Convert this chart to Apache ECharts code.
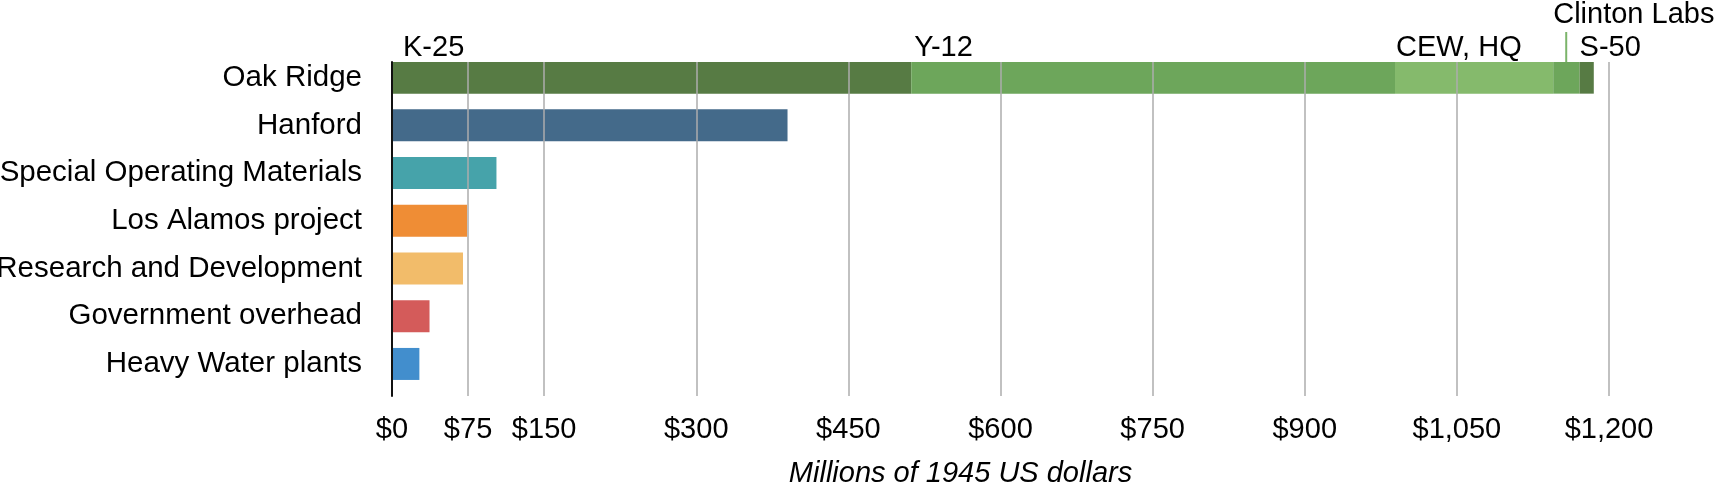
<!DOCTYPE html>
<html>
<head>
<meta charset="utf-8">
<script src="https://cdn.jsdelivr.net/npm/echarts@6/dist/echarts.min.js"></script>
<style>
  html, body { margin: 0; padding: 0; background: #fff; }
  #chart { width: 1716px; height: 482px; }
</style>
</head>
<body>
<div id="chart"></div>
<script>
// data (millions of 1945 US dollars)
const categories = ['Oak Ridge', 'Hanford', 'Special Operating Materials', 'Los Alamos project',
  'Research and Development', 'Government overhead', 'Heavy Water plants'];
const oakParts = ['K-25', 'Y-12', 'CEW, HQ', 'Clinton Labs', 'S-50'];
const oakValues = [512, 477, 156, 26, 14];
const otherValues = [390, 103, 74, 70, 37, 27];   // Hanford .. Heavy Water plants
const tickValues = [0, 75, 150, 300, 450, 600, 750, 900, 1050, 1200];

const oakColors = ['#577b44', '#6da65b', '#85ba6c', '#6da65b', '#577b44'];
const otherColors = ['#446a8a', '#46a3aa', '#ef8d35', '#f2bc6a', '#d45b5a', '#428ecd'];
const labelShift = [11, 3, 1, 0, 0];
const FONT = '"Liberation Sans", Arial, sans-serif';
const FS = 29;

const chart = echarts.init(document.getElementById('chart'), null, {renderer: 'canvas'});

const series = oakParts.map(function (name, i) {
  const s = {
    name: name,
    type: 'bar',
    stack: 'total',
    barWidth: 32,
    barGap: 0,
    data: categories.map((c, j) => j === 0 ? oakValues[i] : '-'),
    itemStyle: {color: oakColors[i]},
    label: {
      show: true,
      formatter: name,
      position: [labelShift[i], 0],
      align: 'left',
      verticalAlign: 'bottom',
      fontFamily: FONT,
      fontSize: FS,
      color: '#000'
    }
  };
  if (name === 'Clinton Labs') {
    // label sits higher with a small leader line down to the bar
    s.label.position = [0, 0];
    s.label.formatter = '{t|' + name + '}\n{g|}{l|}';
    s.label.rich = {
      t: {fontFamily: FONT, fontSize: FS, color: '#000', lineHeight: 35},
      g: {width: 12, height: 30, lineHeight: 30},
      l: {width: 2, height: 30, lineHeight: 30, backgroundColor: '#7bb46a'}
    };
  }
  return s;
});

series.push({
  name: 'Other sites',
  type: 'bar',
  stack: 'total',
  barWidth: 32,
  barGap: 0,
  data: categories.map((c, j) => j === 0 ? '-' : {
    value: otherValues[j - 1],
    itemStyle: {color: otherColors[j - 1]}
  })
});

// empty spacer column: pushes the bars to the top of each band
series.push({
  name: 'spacer',
  type: 'bar',
  barWidth: 16.4,
  barGap: 0,
  silent: true,
  data: []
});

const option = {
  animation: false,
  backgroundColor: '#fff',
  grid: {left: 392, right: 107, top: 62, bottom: 86, containLabel: false, outerBoundsMode: 'none'},
  xAxis: {
    type: 'value',
    min: 0,
    max: 1200,
    interval: 75,
    z: 5,
    axisLine: {show: false},
    axisTick: {show: false, customValues: tickValues},
    splitLine: {show: true, lineStyle: {color: '#acacac', width: 1.5}},
    axisLabel: {
      customValues: tickValues,
      margin: 19,
      fontFamily: FONT,
      fontSize: FS,
      color: '#000',
      formatter: v => '$' + v.toLocaleString('en-US')
    },
    name: 'Millions of 1945 US dollars',
    nameLocation: 'middle',
    nameGap: 63,
    nameTextStyle: {
      fontFamily: FONT,
      fontSize: FS,
      fontStyle: 'italic',
      color: '#000',
      padding: [0, 80, 0, 0]
    }
  },
  yAxis: {
    type: 'category',
    inverse: true,
    data: categories,
    z: 6,
    axisLine: {show: true, lineStyle: {color: '#111', width: 2}},
    axisTick: {show: false},
    splitLine: {show: false},
    axisLabel: {
      margin: 30,
      fontFamily: FONT,
      fontSize: 29.5,
      color: '#000',
      verticalAlign: 'bottom',
      lineHeight: 16.4
    }
  },
  series: series
};

chart.setOption(option);
</script>
</body>
</html>
